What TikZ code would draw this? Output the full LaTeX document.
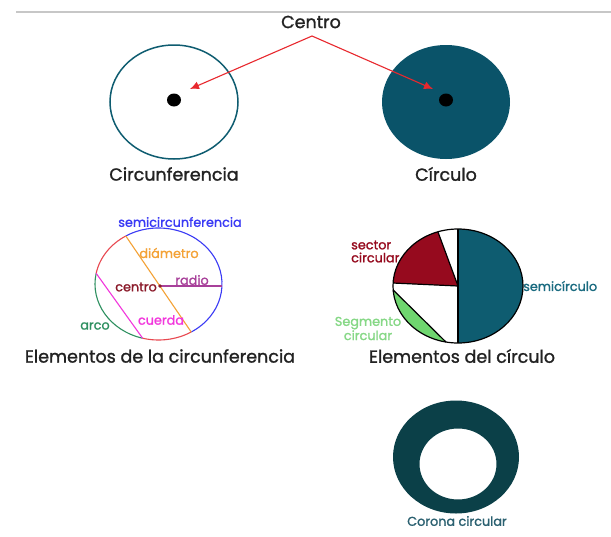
\documentclass[tikz,border=0pt]{standalone}
\usepackage{fontspec}
\setmainfont{Poppins}
\newfontfamily\pmed{Poppins}[FakeBold=1.3]
\usetikzlibrary{arrows.meta,calc}
\definecolor{tealA}{HTML}{0E5C70}
\definecolor{tealB}{HTML}{0A5369}
\definecolor{tealC}{HTML}{0B4048}
\definecolor{redArr}{HTML}{E8282E}
\definecolor{blueS}{HTML}{3A3AF5}
\definecolor{orangeD}{HTML}{F4A236}
\definecolor{purpleR}{HTML}{A8409A}
\definecolor{redC}{HTML}{8B1A2A}
\definecolor{magC}{HTML}{F236DC}
\definecolor{greenA}{HTML}{2E9060}
\definecolor{redArc}{HTML}{E84850}
\definecolor{sectorR}{HTML}{960A1E}
\definecolor{segG}{HTML}{6FD66F}
\definecolor{segT}{HTML}{86D886}
\definecolor{textG}{HTML}{222222}
\definecolor{semiT}{HTML}{1A6B80}
\definecolor{coronaT}{HTML}{2A6070}
\begin{document}
\begin{tikzpicture}[x=1pt,y=-1pt,
  bigtxt/.style={font=\pmed\fontsize{17.5}{19}\selectfont, text=textG, inner sep=0pt},
  smalltxt/.style={font=\pmed\fontsize{12.8}{13}\selectfont, inner sep=0pt},
  dotc/.style={fill=black},
  redarrow/.style={draw=redArr, line width=1.1pt, -{Latex[length=9pt,width=8pt]}},
  outline/.style={draw=black, line width=1.2pt}]
\useasboundingbox (0,0) rectangle (611,536);
\fill[white] (0,0) rectangle (611,536);
\draw[black!22, line width=1.6pt] (16,12) -- (611,12);

% top row
\node[bigtxt] (centro) at (311,22) {Centro};
\coordinate (cs) at (312,36);
\draw[tealA, line width=1.5pt] (174,102) ellipse [x radius=64, y radius=57];
\fill[tealB] (446,102) ellipse [x radius=64, y radius=57];
\fill[dotc] (174,100) ellipse [x radius=7, y radius=6.5];
\fill[dotc] (446,100) ellipse [x radius=7, y radius=6.5];
\coordinate (tL) at (190,89);
\coordinate (tR) at (433,89);
\draw[redarrow] (cs) -- (tL);
\draw[redarrow] (cs) -- (tR);
\node[bigtxt] (circunf) at (174,174) {Circunferencia};
\node[bigtxt] (circulo) at (446,174) {Círculo};

% elementos de la circunferencia
\coordinate (C) at (158.5,284);
\draw[blueS, line width=1.1pt] (C) ++(239:63.5 and 56) arc[start angle=239, end angle=419, x radius=63.5, y radius=56];
\draw[redArc, line width=1.1pt] (C) ++(191:63.5 and 56) arc[start angle=191, end angle=239, x radius=63.5, y radius=56];
\draw[greenA, line width=1.1pt] (C) ++(104.5:63.5 and 56) arc[start angle=104.5, end angle=191, x radius=63.5, y radius=56];
\draw[redArc, line width=1.1pt] (C) ++(59:63.5 and 56) arc[start angle=59, end angle=104.5, x radius=63.5, y radius=56];
\draw[orangeD, line width=1.1pt] ($(C)+(239:63.5 and 56)$) coordinate (dA) -- ($(C)+(59:63.5 and 56)$) coordinate (dB);
\draw[magC, line width=1.1pt] ($(C)+(191:63.5 and 56)$) coordinate (cA) -- ($(C)+(104.5:63.5 and 56)$) coordinate (cB);
\coordinate (rc) at (160,286);
\coordinate (rr) at (222,286);
\draw[purpleR, line width=1.1pt] (rc) -- (rr);
\fill[redC] (rc) circle (1.8);
\node[smalltxt, text=blueS] (lsemi) at (180,222) {semicircunferencia};
\node[smalltxt, text=orangeD] (ldiam) at (169,253) {diámetro};
\node[smalltxt, text=purpleR] (lradio) at (192,280) {radio};
\node[smalltxt, text=redC, anchor=east] (lcentro) at (157,287) {centro};
\node[smalltxt, text=magC] (lcuerda) at (161,320) {cuerda};
\node[smalltxt, text=greenA] (larco) at (95,326) {arco};
\node[bigtxt] (elcirc) at (160,356) {Elementos de la circunferencia};

% elementos del circulo
\coordinate (P) at (458,286);
\fill[white] (P) ellipse [x radius=65, y radius=57];
\fill[tealA] (P) -- ++(270:65 and 57) arc[start angle=270, end angle=450, x radius=65, y radius=57] -- cycle;
\fill[sectorR] (P) -- ++(183:65 and 57) arc[start angle=183, end angle=252, x radius=65, y radius=57] -- cycle;
\fill[segG] ($(P)+(100.7:65 and 57)$) arc[start angle=100.7, end angle=176, x radius=65, y radius=57] -- cycle;
\draw[outline] ($(P)+(100.7:65 and 57)$) -- ($(P)+(176:65 and 57)$);
\draw[outline] ($(P)+(270:65 and 57)$) -- ($(P)+(90:65 and 57)$);
\draw[outline] ($(P)+(252:65 and 57)$) -- (P) -- ($(P)+(183:65 and 57)$);
\draw[outline] (P) ellipse [x radius=65, y radius=57];
\node[smalltxt, text=sectorR, align=left, anchor=west, font=\pmed\fontsize{12.8}{13}\selectfont] (lsector) at (351,251.5) {sector\\circular};
\node[smalltxt, text=segT, align=center, font=\pmed\fontsize{12.8}{11.5}\selectfont] (lseg) at (368,328.5) {Segmento\\circular};
\node[smalltxt, text=semiT, anchor=west] (lsemic) at (523,286) {semicírculo};
\node[bigtxt] (elcirculo) at (462,356) {Elementos del círculo};

% corona
\fill[tealC, even odd rule] (456,457) ellipse [x radius=63, y radius=56.5] (458,464) ellipse [x radius=38.5, y radius=35.5];
\node[smalltxt, text=coronaT] (lcorona) at (457,521) {Corona circular};
\end{tikzpicture}
\end{document}
